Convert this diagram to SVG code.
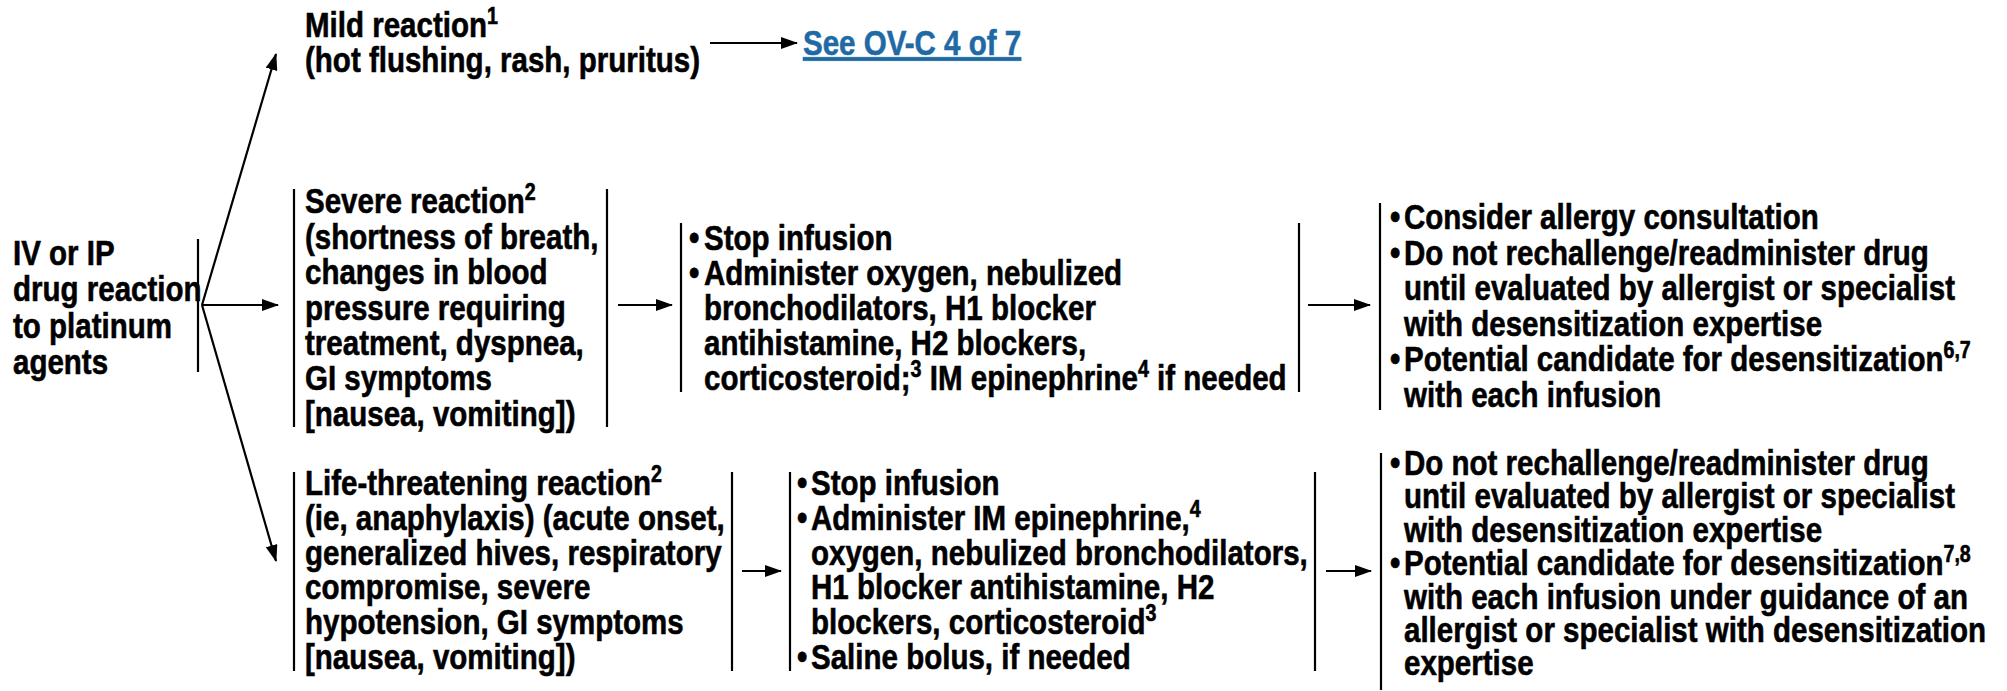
<svg xmlns="http://www.w3.org/2000/svg" width="2007" height="691" viewBox="0 0 2007 691">
<style>
.t { font-family: "Liberation Sans","Arial",sans-serif; font-weight: bold; font-size: 36px; fill: #000; stroke: #000; stroke-width: 0.6; }
.sup { font-size: 24px; }
.link { fill: #1f6aa5; stroke: #1f6aa5; text-decoration: underline; }
.bar { stroke: #000; stroke-width: 2.2; fill: none; }
.conn line { stroke: #000; stroke-width: 2.2; fill: none; marker-end: url(#ah); }
</style>
<defs>
<marker id="ah" markerUnits="userSpaceOnUse" markerWidth="17" markerHeight="12" refX="16" refY="6" orient="auto">
<path d="M0,0 L17,6 L0,12 z" fill="#000"/>
</marker>
</defs>
<rect width="2007" height="691" fill="#fff"/>

<g id="start">
<text class="t" transform="matrix(.82 0 0 1 13 0)" y="265">IV or IP</text>
<text class="t" transform="matrix(.82 0 0 1 13 0)" y="301.5">drug reaction</text>
<text class="t" transform="matrix(.82 0 0 1 13 0)" y="338">to platinum</text>
<text class="t" transform="matrix(.82 0 0 1 13 0)" y="374.5">agents</text>
<line class="bar" x1="198" y1="239" x2="198" y2="372"/>
</g>

<g id="mild">
<text class="t" transform="matrix(.82 0 0 1 305 0)" y="37">Mild reaction<tspan class="sup" dy="-13">1</tspan></text>
<text class="t" transform="matrix(.82 0 0 1 305 0)" y="72">(hot flushing, rash, pruritus)</text>
</g>

<g id="link">
<text class="t link" transform="matrix(.82 0 0 1 803 0)" y="55">See OV-C 4 of 7</text>
</g>

<g id="severe">
<line class="bar" x1="294" y1="189" x2="294" y2="427"/>
<text class="t" transform="matrix(.82 0 0 1 305 0)" y="213.5">Severe reaction<tspan class="sup" dy="-13">2</tspan></text>
<text class="t" transform="matrix(.82 0 0 1 305 0)" y="248.9">(shortness of breath,</text>
<text class="t" transform="matrix(.82 0 0 1 305 0)" y="284.3">changes in blood</text>
<text class="t" transform="matrix(.82 0 0 1 305 0)" y="319.7">pressure requiring</text>
<text class="t" transform="matrix(.82 0 0 1 305 0)" y="355.1">treatment, dyspnea,</text>
<text class="t" transform="matrix(.82 0 0 1 305 0)" y="390.5">GI symptoms</text>
<text class="t" transform="matrix(.82 0 0 1 305 0)" y="425.9">[nausea, vomiting])</text>
<line class="bar" x1="607" y1="189" x2="607" y2="427"/>
</g>

<g id="severe-mgmt">
<line class="bar" x1="681" y1="223" x2="681" y2="392"/>
<text class="t" transform="matrix(.82 0 0 1 689 0)" y="250"><tspan x="0">•</tspan><tspan x="18.3">Stop infusion</tspan></text>
<text class="t" transform="matrix(.82 0 0 1 689 0)" y="285"><tspan x="0">•</tspan><tspan x="18.3">Administer oxygen, nebulized</tspan></text>
<text class="t" transform="matrix(.82 0 0 1 704 0)" y="320">bronchodilators, H1 blocker</text>
<text class="t" transform="matrix(.82 0 0 1 704 0)" y="355">antihistamine, H2 blockers,</text>
<text class="t" transform="matrix(.82 0 0 1 704 0)" y="390">corticosteroid;<tspan class="sup" dy="-13">3</tspan><tspan dy="13"> IM epinephrine</tspan><tspan class="sup" dy="-13">4</tspan><tspan dy="13"> if needed</tspan></text>
<line class="bar" x1="1299" y1="223" x2="1299" y2="392"/>
</g>

<g id="severe-next">
<line class="bar" x1="1380" y1="203" x2="1380" y2="410"/>
<text class="t" transform="matrix(.82 0 0 1 1390 0)" y="229.5"><tspan x="0">•</tspan><tspan x="17.1">Consider allergy consultation</tspan></text>
<text class="t" transform="matrix(.82 0 0 1 1390 0)" y="265"><tspan x="0">•</tspan><tspan x="17.1">Do not rechallenge/readminister drug</tspan></text>
<text class="t" transform="matrix(.82 0 0 1 1404 0)" y="300.5">until evaluated by allergist or specialist</text>
<text class="t" transform="matrix(.82 0 0 1 1404 0)" y="336">with desensitization expertise</text>
<text class="t" transform="matrix(.82 0 0 1 1390 0)" y="371.5"><tspan x="0">•</tspan><tspan x="17.1">Potential candidate for desensitization</tspan><tspan class="sup" dy="-13">6,7</tspan></text>
<text class="t" transform="matrix(.82 0 0 1 1404 0)" y="407">with each infusion</text>
</g>

<g id="life">
<line class="bar" x1="294" y1="472" x2="294" y2="671"/>
<text class="t" transform="matrix(.82 0 0 1 305 0)" y="495">Life-threatening reaction<tspan class="sup" dy="-13">2</tspan></text>
<text class="t" transform="matrix(.82 0 0 1 305 0)" y="529.8">(ie, anaphylaxis) (acute onset,</text>
<text class="t" transform="matrix(.82 0 0 1 305 0)" y="564.6">generalized hives, respiratory</text>
<text class="t" transform="matrix(.82 0 0 1 305 0)" y="599.4">compromise, severe</text>
<text class="t" transform="matrix(.82 0 0 1 305 0)" y="634.2">hypotension, GI symptoms</text>
<text class="t" transform="matrix(.82 0 0 1 305 0)" y="669">[nausea, vomiting])</text>
<line class="bar" x1="732" y1="472" x2="732" y2="671"/>
</g>

<g id="life-mgmt">
<line class="bar" x1="790" y1="472" x2="790" y2="671"/>
<text class="t" transform="matrix(.82 0 0 1 797 0)" y="495"><tspan x="0">•</tspan><tspan x="17.1">Stop infusion</tspan></text>
<text class="t" transform="matrix(.82 0 0 1 797 0)" y="529.8"><tspan x="0">•</tspan><tspan x="17.1">Administer IM epinephrine,</tspan><tspan class="sup" dy="-13">4</tspan></text>
<text class="t" transform="matrix(.82 0 0 1 811 0)" y="564.6">oxygen, nebulized bronchodilators,</text>
<text class="t" transform="matrix(.82 0 0 1 811 0)" y="599.4">H1 blocker antihistamine, H2</text>
<text class="t" transform="matrix(.82 0 0 1 811 0)" y="634.2">blockers, corticosteroid<tspan class="sup" dy="-13">3</tspan></text>
<text class="t" transform="matrix(.82 0 0 1 797 0)" y="669"><tspan x="0">•</tspan><tspan x="17.1">Saline bolus, if needed</tspan></text>
<line class="bar" x1="1315" y1="472" x2="1315" y2="671"/>
</g>

<g id="life-next">
<line class="bar" x1="1381" y1="453" x2="1381" y2="690"/>
<text class="t" transform="matrix(.82 0 0 1 1390 0)" y="475"><tspan x="0">•</tspan><tspan x="17.1">Do not rechallenge/readminister drug</tspan></text>
<text class="t" transform="matrix(.82 0 0 1 1404 0)" y="508.4">until evaluated by allergist or specialist</text>
<text class="t" transform="matrix(.82 0 0 1 1404 0)" y="541.8">with desensitization expertise</text>
<text class="t" transform="matrix(.82 0 0 1 1390 0)" y="575.2"><tspan x="0">•</tspan><tspan x="17.1">Potential candidate for desensitization</tspan><tspan class="sup" dy="-13">7,8</tspan></text>
<text class="t" transform="matrix(.82 0 0 1 1404 0)" y="608.6">with each infusion under guidance of an</text>
<text class="t" transform="matrix(.82 0 0 1 1404 0)" y="642">allergist or specialist with desensitization</text>
<text class="t" transform="matrix(.82 0 0 1 1404 0)" y="675.4">expertise</text>
</g>

<g id="connectors" class="conn">
<line x1="202" y1="305" x2="276" y2="54"/>
<line x1="202" y1="305" x2="278" y2="305"/>
<line x1="202" y1="305" x2="276" y2="561"/>
<line x1="710" y1="43" x2="797" y2="43"/>
<line x1="618" y1="305" x2="672" y2="305"/>
<line x1="1308" y1="305" x2="1370" y2="305"/>
<line x1="742" y1="571" x2="781" y2="571"/>
<line x1="1326" y1="571" x2="1371" y2="571"/>
</g>
</svg>
